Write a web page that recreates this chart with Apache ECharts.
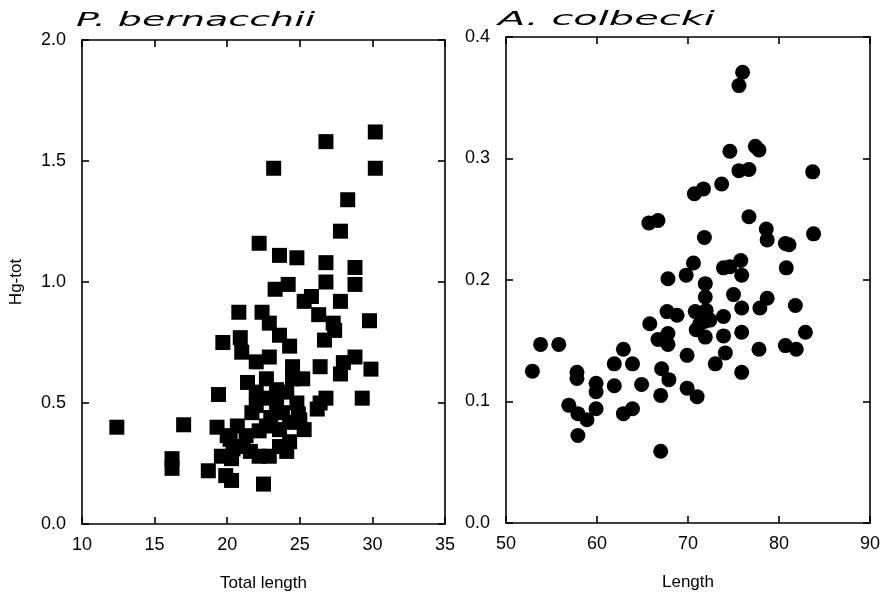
<!DOCTYPE html>
<html>
<head>
<meta charset="utf-8">
<script src="https://cdn.jsdelivr.net/npm/echarts@6/dist/echarts.min.js"></script>
<style>
html,body{margin:0;padding:0;background:#fff;}
#chart{width:886px;height:597px;}
</style>
</head>
<body>
<div id="chart"></div>
<script>
// P. bernacchii: total length vs Hg-tot
const bernacchiiLength = [12.4,16.2,16.2,17.0,18.7,19.3,19.4,19.7,19.6,19.9,20.3,20.2,20.4,20.3,20.7,20.8,20.9,21.0,21.1,21.3,21.4,21.7,22.0,22.0,22.0,22.2,22.2,22.2,22.4,22.5,22.7,22.7,22.9,22.9,22.9,23.2,23.3,23.4,23.4,23.6,23.6,23.6,23.6,23.8,24.1,24.1,24.2,24.3,24.3,24.3,24.5,24.5,24.8,24.8,24.9,25.0,25.2,25.3,25.3,25.8,26.2,26.4,26.4,26.3,26.7,26.8,26.8,26.8,26.8,27.3,27.4,27.8,27.8,27.8,28.0,28.3,28.8,28.8,28.8,29.3,29.8,29.9,30.2,30.2,20.0,21.6,23.0,22.6];
const bernacchiiHg     = [0.40,0.27,0.23,0.41,0.22,0.40,0.535,0.75,0.28,0.20,0.18,0.35,0.31,0.27,0.405,0.875,0.77,0.71,0.32,0.365,0.585,0.46,0.67,0.545,0.49,0.385,0.28,1.16,0.875,0.165,0.405,0.60,0.83,0.69,0.28,1.47,0.97,0.555,0.50,1.11,0.78,0.39,0.32,0.46,0.545,0.30,0.99,0.735,0.42,0.34,0.65,0.60,1.10,0.50,0.455,0.43,0.60,0.39,0.92,0.94,0.475,0.65,0.50,0.865,0.76,1.58,1.08,1.00,0.52,0.83,0.80,1.21,0.92,0.62,0.667,1.34,0.69,1.06,0.99,0.52,0.84,0.64,1.62,1.47,0.365,0.30,0.44,0.52];

// A. colbecki: length vs Hg-tot
const colbeckiLength = [52.9,53.8,55.8,56.9,57.8,57.8,57.9,57.9,58.9,59.9,59.9,59.9,61.9,61.9,62.9,62.9,63.9,63.9,64.9,65.7,66.7,65.8,66.7,67.0,67.0,67.1,67.7,67.8,67.8,67.8,67.9,68.8,69.8,69.9,69.9,70.6,70.7,70.8,70.9,71.0,71.3,71.7,71.8,71.9,71.9,72.0,71.9,71.9,72.4,73.0,73.7,73.9,73.9,73.9,74.1,74.6,74.6,75.0,75.6,76.0,75.6,75.8,75.9,75.9,75.9,75.9,76.7,76.7,77.4,77.8,77.9,77.8,78.6,78.7,78.7,80.7,81.1,80.8,80.7,81.8,81.9,82.9,83.7,83.8];
const colbeckiHg     = [0.125,0.147,0.147,0.097,0.124,0.119,0.090,0.072,0.085,0.115,0.108,0.094,0.131,0.113,0.143,0.090,0.131,0.094,0.114,0.247,0.249,0.164,0.151,0.105,0.059,0.127,0.174,0.201,0.156,0.147,0.118,0.171,0.204,0.138,0.111,0.214,0.271,0.174,0.159,0.104,0.164,0.275,0.235,0.197,0.186,0.175,0.166,0.153,0.167,0.131,0.279,0.210,0.170,0.154,0.140,0.306,0.211,0.188,0.360,0.371,0.290,0.216,0.204,0.177,0.157,0.124,0.291,0.252,0.310,0.307,0.177,0.143,0.242,0.233,0.185,0.230,0.229,0.210,0.146,0.179,0.143,0.157,0.289,0.238];

// axis ticks
const leftXTicks = {min:10, max:35, interval:5};
const leftYTicks = {min:0, max:2.0, interval:0.5};
const rightXTicks = {min:50, max:90, interval:10};
const rightYTicks = {min:0, max:0.4, interval:0.1};

const titles = ['P. bernacchii', 'A. colbecki'];
const xNames = ['Total length', 'Length'];
const yName = 'Hg-tot';

const zip = (a, b) => a.map((v, i) => [v, b[i]]);
const FONT = '"Liberation Sans", Arial, sans-serif';
const lineStyle = {color:'#000', width:1.6};

function xAxis(grid, t, pos, showLabel, name) {
  return {
    type:'value', gridIndex:grid, position:pos, min:t.min, max:t.max, interval:t.interval,
    axisLine:{show:true, onZero:false, lineStyle},
    axisTick:{show:true, inside:true, length:7, lineStyle},
    splitLine:{show:false}, minorTick:{show:false},
    axisLabel:{show:showLabel, color:'#000', fontSize:18, fontFamily:FONT, margin:12},
    name: name || '', nameLocation:'middle', nameGap:51,
    nameTextStyle:{color:'#000', fontSize:17, fontFamily:FONT}
  };
}
function yAxis(grid, t, pos, showLabel, name) {
  return {
    type:'value', gridIndex:grid, position:pos, min:t.min, max:t.max, interval:t.interval,
    axisLine:{show:true, onZero:false, lineStyle},
    axisTick:{show:true, inside:true, length:7, lineStyle},
    splitLine:{show:false}, minorTick:{show:false},
    axisLabel:{show:showLabel, color:'#000', fontSize:18, fontFamily:FONT, margin:16,
      formatter: v => v.toFixed(1)},
    name: name || '', nameLocation:'middle', nameGap:57, nameRotate:90,
    nameTextStyle:{color:'#000', fontSize:17, fontFamily:FONT}
  };
}

const chart = echarts.init(document.getElementById('chart'), null, {renderer:'canvas'});
chart.setOption({
  backgroundColor:'#fff',
  animation:false,
  grid:[
    {left:82, top:40, width:363, height:485},
    {left:506, top:37, width:364, height:486}
  ],
  xAxis:[
    xAxis(0, leftXTicks, 'bottom', true, xNames[0]),
    xAxis(0, leftXTicks, 'top', false),
    xAxis(1, rightXTicks, 'bottom', true, xNames[1]),
    xAxis(1, rightXTicks, 'top', false)
  ],
  yAxis:[
    yAxis(0, leftYTicks, 'left', true, yName),
    yAxis(0, leftYTicks, 'right', false),
    yAxis(1, rightYTicks, 'left', true),
    yAxis(1, rightYTicks, 'right', false)
  ],
  series:[
    {type:'scatter', xAxisIndex:0, yAxisIndex:0, symbol:'rect', symbolSize:15,
     itemStyle:{color:'#000', opacity:1}, data: zip(bernacchiiLength, bernacchiiHg)},
    {type:'scatter', xAxisIndex:2, yAxisIndex:2, symbol:'circle', symbolSize:15,
     itemStyle:{color:'#000', opacity:1}, data: zip(colbeckiLength, colbeckiHg)}
  ],
  graphic:[
    {type:'text', x:76, y:12, scaleX:2.0,
     style:{text:titles[0], font:'italic 19px "DejaVu Sans"', fill:'#000', textVerticalAlign:'top'}},
    {type:'text', x:498, y:11, scaleX:2.1,
     style:{text:titles[1], font:'italic 19px "DejaVu Sans"', fill:'#000', textVerticalAlign:'top'}}
  ]
});
</script>
</body>
</html>
